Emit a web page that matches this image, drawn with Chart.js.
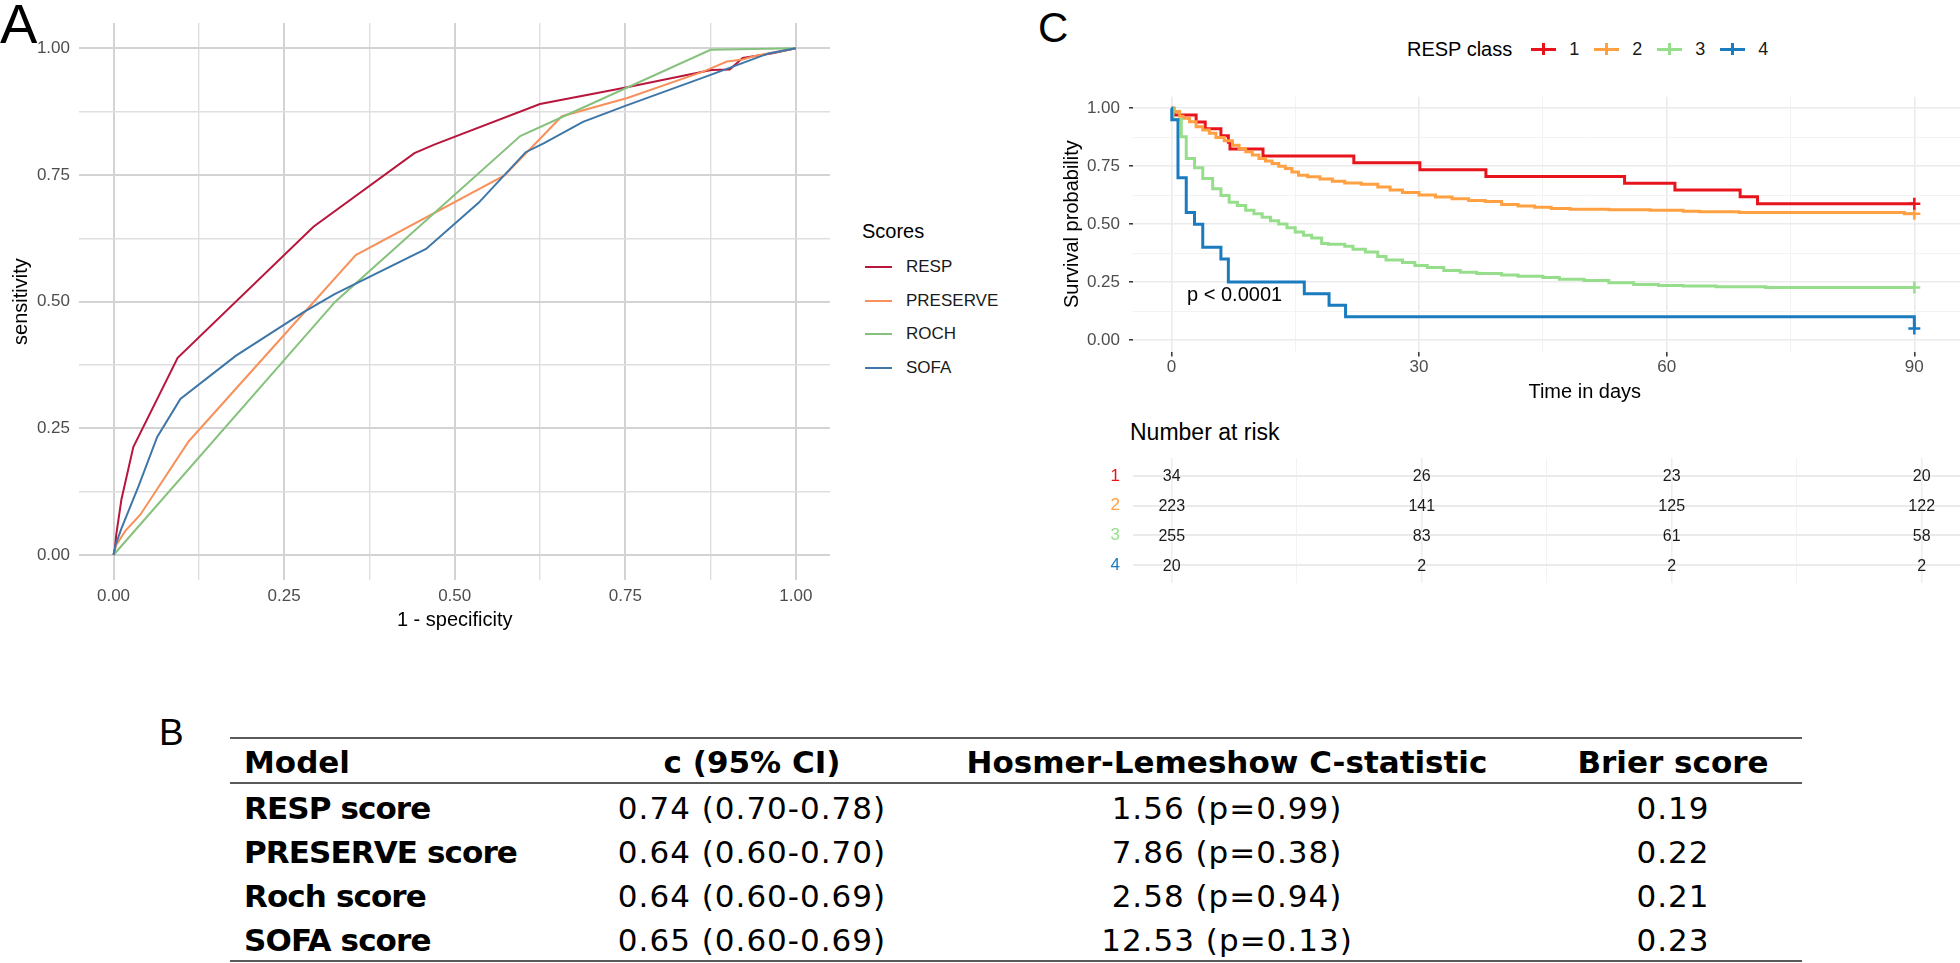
<!DOCTYPE html>
<html>
<head>
<meta charset="utf-8">
<title>RESP score figure</title>
<script src="https://cdn.jsdelivr.net/npm/chart.js@4.4.1/dist/chart.umd.min.js"></script>
<style>
  html, body { margin: 0; padding: 0; overflow: hidden; background: #fff; }
  body { position: relative; width: 1960px; height: 963px; font-family: 'Liberation Sans', Arial, sans-serif; color: #000; }
  .abs { position: absolute; }
  .txt { position: absolute; line-height: 1; white-space: nowrap; }
  .tag { position: absolute; line-height: 1; font-family: 'Liberation Sans', Arial, sans-serif; }

  /* Panel A legend */
  #rocLegend .legend-title { font-size: 20px; line-height: 20px; height: 20px; margin-bottom: 9px; }
  #rocLegend .item { display: flex; align-items: center; height: 33.7px; font-size: 17px; color: #1a1a1a; }
  #rocLegend .key { width: 27px; height: 2px; margin-left: 3px; margin-right: 14px; }

  /* Panel C legend */
  #kmLegend { display: flex; align-items: center; height: 24px; font-size: 20px; }
  #kmLegend .title { margin-right: 19px; }
  #kmLegend .key { position: relative; width: 25px; height: 12px; margin-right: 13px; }
  #kmLegend .key::before { content: ''; position: absolute; left: 0; right: 0; top: 4.5px; height: 3px; background: currentColor; }
  #kmLegend .key::after { content: ''; position: absolute; left: 11px; width: 3px; top: 0; bottom: 0; background: currentColor; }
  #kmLegend .label { font-size: 18px; color: #1a1a1a; margin-right: 15px; }

  /* Panel B table */
  #scoreTable { position: absolute; left: 230px; top: 737px; width: 1572px; border-collapse: collapse; table-layout: fixed;
    font-family: 'DejaVu Sans', sans-serif; font-size: 31px; color: #000;
    border-top: 2px solid #5a5a5a; border-bottom: 2px solid #5a5a5a; }
  #scoreTable th { font-weight: bold; padding: 4px 0 0 0; line-height: 39px; border-bottom: 2px solid #5a5a5a; white-space: nowrap; }
  #scoreTable td { padding: 4px 0 0 0; line-height: 40px; letter-spacing: 1px; white-space: nowrap; }
  #scoreTable .model { text-align: left; padding-left: 14px; font-weight: bold; letter-spacing: 0; }
  #scoreTable td.model { letter-spacing: -0.9px; }
  #scoreTable .mid { text-align: center; }
  #scoreTable .last { text-align: center; padding-left: 34px; }
</style>
</head>
<body>
<canvas id="rocChart" class="abs" style="left:0; top:0;" width="840" height="640"></canvas>
<div class="tag" style="left:0px; top:-4px; font-size:56px;">A</div>
<div id="rocLegend" class="abs" style="left:862px; top:221px;"><div class="legend-title">Scores</div></div>

<canvas id="kmChart" class="abs" style="left:1040px; top:80px;" width="1005" height="330"></canvas>
<div class="tag" style="left:1038px; top:7px; font-size:42px;">C</div>
<div id="kmLegend" class="abs" style="left:1407px; top:37px;"><span class="title">RESP class</span></div>
<div class="txt" style="left:1130px; top:421px; font-size:23px;">Number at risk</div>
<canvas id="riskChart" class="abs" style="left:1040px; top:440px;" width="1005" height="150"></canvas>

<div class="tag" style="left:159px; top:714px; font-size:37px;">B</div>
<table id="scoreTable">
  <colgroup><col style="width:330px"><col style="width:384px"><col style="width:566px"><col style="width:292px"></colgroup>
  <thead><tr id="tableHead"></tr></thead>
  <tbody id="tableBody"></tbody>
</table>

<script>
/**
 * Data
 */
// Panel A: ROC curves, [1 - specificity, sensitivity]
const rocNames = ['RESP', 'PRESERVE', 'ROCH', 'SOFA'];
const rocColors = ['#B8163C', '#F7905A', '#86C27D', '#3F76A8'];
const respRoc = [[0, 0], [0.002, 0.012], [0.004, 0.04], [0.0115, 0.109], [0.029, 0.213], [0.094, 0.389], [0.293, 0.648],
  [0.441, 0.793], [0.47, 0.81], [0.625, 0.89], [0.749, 0.922], [0.876, 0.957], [0.903, 0.958], [0.922, 0.981], [0.964, 0.99], [1, 1]];
const preserveRoc = [[0, 0], [0.004, 0.02], [0.0176, 0.048], [0.039, 0.079], [0.11, 0.224], [0.355, 0.592], [0.573, 0.749],
  [0.657, 0.866], [0.753, 0.902], [0.864, 0.954], [0.899, 0.974], [0.922, 0.978], [0.94, 0.985], [1, 1]];
const rochRoc = [[0, 0], [0.325, 0.5], [0.596, 0.827], [0.66, 0.866], [0.875, 0.997], [1, 1]];
const sofaRoc = [[0, 0], [0.003, 0.02], [0.0115, 0.052], [0.037, 0.137], [0.064, 0.233], [0.098, 0.308], [0.179, 0.393],
  [0.278, 0.479], [0.324, 0.515], [0.458, 0.604], [0.535, 0.695], [0.604, 0.795], [0.631, 0.813], [0.688, 0.855],
  [0.749, 0.886], [0.876, 0.948], [0.96, 0.99], [1, 1]];
const rocTicks = [0, 0.25, 0.5, 0.75, 1];

// Panel C: Kaplan-Meier survival by RESP class
const kmClasses = ['1', '2', '3', '4'];
const kmColors = ['#E8141C', '#FFA143', '#97DE8C', '#1A7BBF'];
const class1Times = [0, 0.3, 3.0, 4.1, 6.0, 6.9, 7.1, 11.1, 22.1, 30.1, 38.1, 54.9, 61.0, 68.9, 71.0, 90];
const class1Surv = [1, 0.971, 0.941, 0.912, 0.882, 0.853, 0.824, 0.794, 0.765, 0.735, 0.706, 0.676, 0.647, 0.618, 0.588, 0.588];
const class2Times = [0, 0.3, 1.0, 1.4, 2.2, 3.0, 3.8, 4.6, 5.4, 6.4, 7.4, 8.2, 9.0, 9.8, 10.6, 11.4, 12.2, 13.0, 13.8, 14.6,
  15.4, 16.5, 18.0, 19.5, 21.0, 23.0, 25.0, 26.5, 28.0, 30.0, 32.0, 34.0, 36.0, 38.0, 40.0, 42.0, 44.0, 46.0, 48.3, 53.0,
  58.0, 62.0, 64.0, 68.8, 88.8, 90];
const class2Surv = [1, 0.986, 0.966, 0.957, 0.942, 0.92, 0.906, 0.892, 0.874, 0.86, 0.841, 0.827, 0.812, 0.798, 0.783, 0.773,
  0.762, 0.75, 0.74, 0.725, 0.711, 0.705, 0.695, 0.685, 0.678, 0.672, 0.66, 0.647, 0.637, 0.626, 0.617, 0.61, 0.602, 0.598,
  0.585, 0.578, 0.573, 0.568, 0.564, 0.562, 0.56, 0.556, 0.553, 0.55, 0.545, 0.545];
const class3Times = [0, 0.2, 1.2, 1.8, 2.8, 3.8, 5.0, 6.0, 7.0, 8.0, 9.0, 10.0, 11.0, 12.0, 13.0, 14.0, 15.0, 16.0, 17.0, 18.2,
  19.0, 21.0, 22.0, 23.5, 25.0, 26.0, 28.0, 29.5, 31.0, 33.0, 35.0, 37.0, 40.0, 42.0, 45.0, 47.0, 50.0, 53.0, 56.0, 59.0,
  62.0, 66.0, 72.0, 90];
const class3Surv = [1, 0.952, 0.877, 0.783, 0.743, 0.697, 0.653, 0.624, 0.595, 0.581, 0.56, 0.545, 0.53, 0.515, 0.501, 0.485,
  0.466, 0.452, 0.44, 0.417, 0.413, 0.405, 0.392, 0.38, 0.36, 0.345, 0.335, 0.322, 0.313, 0.3, 0.292, 0.287, 0.281, 0.275,
  0.27, 0.262, 0.257, 0.247, 0.24, 0.235, 0.233, 0.23, 0.227, 0.227];
const class4Times = [0, 0.05, 0.8, 1.8, 2.8, 3.8, 6.0, 6.9, 16.1, 19.1, 21.1, 90];
const class4Surv = [1, 0.95, 0.7, 0.55, 0.5, 0.4, 0.35, 0.25, 0.2, 0.15, 0.1, 0.05];
const kmTimeTicks = [0, 30, 60, 90];
const kmSurvTicks = [0, 0.25, 0.5, 0.75, 1];
const pValueText = 'p < 0.0001';
const pValueAt = { time: 1.9, surv: 0.194 };

// Number at risk
const riskTimes = [0, 30, 60, 90];
const riskCounts1 = [34, 26, 23, 20];
const riskCounts2 = [223, 141, 125, 122];
const riskCounts3 = [255, 83, 61, 58];
const riskCounts4 = [20, 2, 2, 2];

// Panel B: table
const tableHeader = ['Model', 'c (95% CI)', 'Hosmer-Lemeshow C-statistic', 'Brier score'];
const modelNames = ['RESP score', 'PRESERVE score', 'Roch score', 'SOFA score'];
const cStatistics = ['0.74 (0.70-0.78)', '0.64 (0.60-0.70)', '0.64 (0.60-0.69)', '0.65 (0.60-0.69)'];
const hosmerLemeshow = ['1.56 (p=0.99)', '7.86 (p=0.38)', '2.58 (p=0.94)', '12.53 (p=0.13)'];
const brierScores = ['0.19', '0.22', '0.21', '0.23'];

/**
 * Helpers
 */
Chart.defaults.font.family = "'Liberation Sans', Arial, sans-serif";
Chart.defaults.animation = false;
const tickGrey = '#4D4D4D';
const timeMin = -4.65;
const timeMax = 104.8;

// major ticks plus the minor midpoints between them
function withMinor(major) {
  const all = [];
  major.forEach((v, i) => {
    all.push(v);
    if (i < major.length - 1) all.push((v + major[i + 1]) / 2);
  });
  return all;
}

function setTicks(values) {
  return (scale) => {
    scale.ticks = values.map((value) => ({ value }));
  };
}

// fixed axis size so the plot panels line up with the reference
function fixSize(prop, size) {
  return (scale) => {
    scale[prop] = size;
    scale.paddingTop = 0;
    scale.paddingBottom = 0;
    scale.paddingLeft = 0;
    scale.paddingRight = 0;
  };
}

function isMajor(ctx, major) {
  return ctx.tick && major.includes(ctx.tick.value);
}

/**
 * Panel A: ROC
 */
const rocData = [respRoc, preserveRoc, rochRoc, sofaRoc];
new Chart(document.getElementById('rocChart'), {
  type: 'line',
  data: {
    datasets: rocNames.map((name, i) => ({
      label: name,
      data: rocData[i].map(([x, y]) => ({ x, y })),
      borderColor: rocColors[i],
      borderWidth: 2,
      pointRadius: 0,
      tension: 0,
      order: rocNames.length - i,
    })),
  },
  options: {
    responsive: false,
    devicePixelRatio: 1,
    layout: { padding: { top: 23, right: 10, left: 0, bottom: 0 } },
    plugins: { legend: { display: false }, tooltip: { enabled: false } },
    scales: {
      x: {
        type: 'linear',
        min: -0.05,
        max: 1.05,
        afterBuildTicks: setTicks(withMinor(rocTicks)),
        afterFit: fixSize('height', 59.7),
        border: { display: false },
        grid: {
          drawTicks: false,
          color: (c) => (isMajor(c, rocTicks) ? '#D3D3D3' : '#DFDFDF'),
          lineWidth: (c) => (isMajor(c, rocTicks) ? 2 : 1.4),
        },
        ticks: {
          autoSkip: false,
          maxRotation: 0,
          padding: 6,
          color: tickGrey,
          font: { size: 17 },
          callback: (v) => (rocTicks.includes(v) ? v.toFixed(2) : ''),
        },
        title: { display: true, text: '1 - specificity', color: '#000', font: { size: 20 }, padding: { top: 0, bottom: 8 } },
      },
      y: {
        type: 'linear',
        min: -0.05,
        max: 1.05,
        afterBuildTicks: setTicks(withMinor(rocTicks)),
        afterFit: fixSize('width', 79.4),
        border: { display: false },
        grid: {
          drawTicks: false,
          color: (c) => (isMajor(c, rocTicks) ? '#D3D3D3' : '#DFDFDF'),
          lineWidth: (c) => (isMajor(c, rocTicks) ? 2 : 1.4),
        },
        ticks: {
          autoSkip: false,
          padding: 9.4,
          color: tickGrey,
          font: { size: 17 },
          callback: (v) => (rocTicks.includes(v) ? v.toFixed(2) : ''),
        },
        title: { display: true, text: 'sensitivity', color: '#000', font: { size: 20 }, padding: { top: 9, bottom: 0 } },
      },
    },
  },
});

// Legend for panel A
const rocLegend = document.getElementById('rocLegend');
rocNames.forEach((name, i) => {
  const item = document.createElement('div');
  item.className = 'item';
  item.innerHTML = `<span class="key" style="background:${rocColors[i]}"></span><span>${name}</span>`;
  rocLegend.appendChild(item);
});

/**
 * Panel C: Kaplan-Meier
 */
const kmSeries = [
  { times: class1Times, surv: class1Surv },
  { times: class2Times, surv: class2Surv },
  { times: class3Times, surv: class3Surv },
  { times: class4Times, surv: class4Surv },
];

const pValuePlugin = {
  id: 'pValueLabel',
  afterDatasetsDraw(chart) {
    const { ctx, scales } = chart;
    ctx.save();
    ctx.font = "20px 'Liberation Sans', Arial, sans-serif";
    ctx.fillStyle = '#000';
    ctx.textAlign = 'left';
    ctx.textBaseline = 'middle';
    ctx.fillText(pValueText, scales.x.getPixelForValue(pValueAt.time), scales.y.getPixelForValue(pValueAt.surv));
    ctx.restore();
  },
};

new Chart(document.getElementById('kmChart'), {
  type: 'line',
  data: {
    datasets: [
      ...kmClasses.map((cls, i) => ({
        label: cls,
        data: kmSeries[i].times.map((t, j) => ({ x: t, y: kmSeries[i].surv[j] })),
        borderColor: kmColors[i],
        borderWidth: 3,
        stepped: true,
        pointRadius: 0,
        order: 10 - i,
      })),
      // censor marks at the end of follow-up
      ...kmClasses.map((cls, i) => {
        const last = kmSeries[i].times.length - 1;
        return {
          type: 'scatter',
          label: cls + ' censored',
          data: [{ x: kmSeries[i].times[last], y: kmSeries[i].surv[last] }],
          pointStyle: 'cross',
          pointRadius: 6,
          borderWidth: 2.5,
          borderColor: kmColors[i],
          order: 0,
        };
      }),
    ],
  },
  options: {
    responsive: false,
    devicePixelRatio: 1,
    layout: { padding: { top: 16.7, right: 0, left: 0, bottom: 0 } },
    plugins: { legend: { display: false }, tooltip: { enabled: false } },
    scales: {
      x: {
        type: 'linear',
        min: timeMin,
        max: timeMax,
        afterBuildTicks: setTicks(withMinor(kmTimeTicks)),
        afterFit: fixSize('height', 58.4),
        border: { display: false },
        grid: {
          tickLength: 5,
          tickWidth: 1.5,
          tickColor: (c) => (isMajor(c, kmTimeTicks) ? '#333' : 'rgba(0,0,0,0)'),
          color: (c) => (isMajor(c, kmTimeTicks) ? '#EBEBEB' : '#F3F3F3'),
          lineWidth: (c) => (isMajor(c, kmTimeTicks) ? 1.6 : 1),
        },
        ticks: {
          autoSkip: false,
          maxRotation: 0,
          padding: 1,
          color: tickGrey,
          font: { size: 17 },
          callback: (v) => (kmTimeTicks.includes(v) ? String(v) : ''),
        },
        title: { display: true, text: 'Time in days', color: '#000', font: { size: 20 }, padding: { top: 0, bottom: 6 } },
      },
      y: {
        type: 'linear',
        min: -0.05,
        max: 1.05,
        afterBuildTicks: setTicks(withMinor(kmSurvTicks)),
        afterFit: fixSize('width', 93),
        border: { display: false },
        grid: {
          tickLength: 4,
          tickWidth: 1.5,
          tickColor: (c) => (isMajor(c, kmSurvTicks) ? '#333' : 'rgba(0,0,0,0)'),
          color: (c) => (isMajor(c, kmSurvTicks) ? '#EBEBEB' : '#F3F3F3'),
          lineWidth: (c) => (isMajor(c, kmSurvTicks) ? 1.6 : 1),
        },
        ticks: {
          autoSkip: false,
          padding: 9,
          color: tickGrey,
          font: { size: 17 },
          callback: (v) => (kmSurvTicks.includes(v) ? v.toFixed(2) : ''),
        },
        title: { display: true, text: 'Survival probability', color: '#000', font: { size: 20 }, padding: { top: 20, bottom: 0 } },
      },
    },
  },
  plugins: [pValuePlugin],
});

// Legend for panel C
const kmLegend = document.getElementById('kmLegend');
kmClasses.forEach((cls, i) => {
  kmLegend.insertAdjacentHTML('beforeend',
    `<span class="key" style="color:${kmColors[i]}"></span><span class="label">${cls}</span>`);
});

/**
 * Number at risk table
 */
const riskCounts = [riskCounts1, riskCounts2, riskCounts3, riskCounts4];

const riskNumbersPlugin = {
  id: 'riskNumbers',
  afterDatasetsDraw(chart) {
    const { ctx } = chart;
    ctx.save();
    ctx.font = "16px 'Liberation Sans', Arial, sans-serif";
    ctx.fillStyle = '#1A1A1A';
    ctx.textAlign = 'center';
    ctx.textBaseline = 'middle';
    chart.data.datasets.forEach((ds, i) => {
      chart.getDatasetMeta(i).data.forEach((pt, j) => {
        ctx.fillText(String(ds.data[j].n), pt.x, pt.y + 1);
      });
    });
    ctx.restore();
  },
};

new Chart(document.getElementById('riskChart'), {
  type: 'scatter',
  data: {
    datasets: kmClasses.map((cls, i) => ({
      label: cls,
      data: riskTimes.map((t, j) => ({ x: t, y: i + 1, n: riskCounts[i][j] })),
      pointRadius: 0,
    })),
  },
  options: {
    responsive: false,
    devicePixelRatio: 1,
    layout: { padding: { top: 18, right: 0, left: 0, bottom: 7 } },
    plugins: { legend: { display: false }, tooltip: { enabled: false } },
    scales: {
      x: {
        type: 'linear',
        min: timeMin,
        max: timeMax,
        afterBuildTicks: setTicks(withMinor(kmTimeTicks)),
        afterFit: fixSize('height', 0),
        border: { display: false },
        ticks: { display: false },
        grid: {
          drawTicks: false,
          color: (c) => (isMajor(c, kmTimeTicks) ? '#EEEEEE' : '#F3F3F3'),
          lineWidth: (c) => (isMajor(c, kmTimeTicks) ? 1.6 : 1),
        },
      },
      y: {
        type: 'linear',
        min: 0.4,
        max: 4.6,
        reverse: true,
        afterBuildTicks: setTicks(kmClasses.map((cls, i) => i + 1)),
        afterFit: fixSize('width', 93),
        border: { display: false },
        grid: { drawTicks: false, color: '#EBEBEB', lineWidth: 2 },
        ticks: {
          autoSkip: false,
          padding: 13,
          font: { size: 17 },
          color: (c) => kmColors[c.index],
          callback: (v) => kmClasses[v - 1],
        },
      },
    },
  },
  plugins: [riskNumbersPlugin],
});

/**
 * Panel B: performance table
 */
const headRow = document.getElementById('tableHead');
tableHeader.forEach((text, i) => {
  const th = document.createElement('th');
  th.textContent = text;
  th.className = i === 0 ? 'model' : i === tableHeader.length - 1 ? 'last' : 'mid';
  headRow.appendChild(th);
});
const body = document.getElementById('tableBody');
modelNames.forEach((name, i) => {
  const tr = document.createElement('tr');
  [name, cStatistics[i], hosmerLemeshow[i], brierScores[i]].forEach((text, j) => {
    const td = document.createElement('td');
    td.textContent = text;
    td.className = j === 0 ? 'model' : j === 3 ? 'last' : 'mid';
    tr.appendChild(td);
  });
  body.appendChild(tr);
});
</script>
</body>
</html>
